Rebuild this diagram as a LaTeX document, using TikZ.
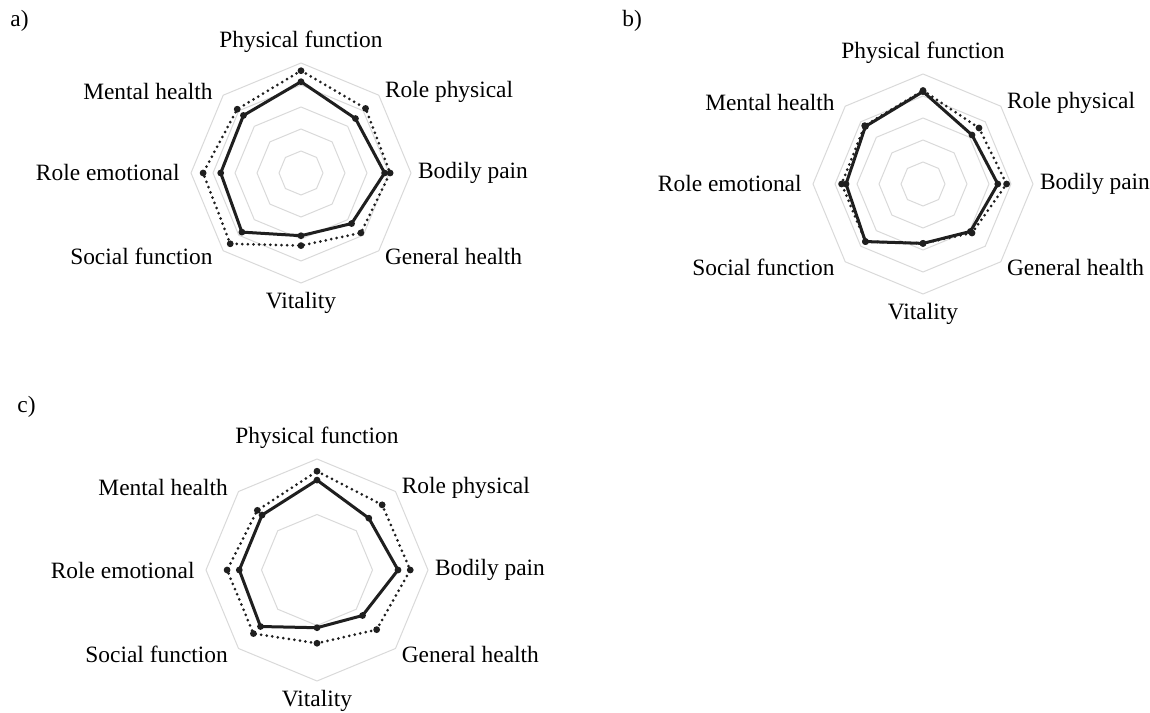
\documentclass[tikz,border=0pt]{standalone}
\usepackage{fontspec}
\setmainfont{Liberation Serif}
\begin{document}
\begin{tikzpicture}[x=0.5pt,y=0.5pt,
  grid/.style={draw=black!15,line width=0.5pt},
  solidline/.style={draw=black!88,line width=1.5pt,line join=round},
  dotline/.style={draw=black!88,line width=1.5pt,line cap=round,dash pattern=on 0pt off 2.8pt},
  lbl/.style={font=\fontsize{11.7}{14}\selectfont,inner sep=0pt}]
\useasboundingbox (0,0) rectangle (1150,712);
\node[lbl,anchor=west] (taga) at (10,691) {a)};
\node[lbl,anchor=west] (tagb) at (622,691) {b)};
\node[lbl,anchor=west] (tagc) at (17,305) {c)};
% panel a
\begin{scope}[shift={(301,539)},x=55pt,y=55pt]
\foreach \r in {0.2,0.4,0.6,0.8,1}
  \draw[grid] (90:\r) -- (45:\r) -- (0:\r) -- (-45:\r) -- (-90:\r) -- (-135:\r) -- (180:\r) -- (135:\r) -- cycle;
\draw[dotline] (90:0.93) -- (45:0.83) -- (0:0.81) -- (-45:0.77) -- (-90:0.66) -- (-135:0.91) -- (180:0.89) -- (135:0.82) -- cycle;
\draw[solidline] (90:0.83) -- (45:0.70) -- (0:0.76) -- (-45:0.65) -- (-90:0.57) -- (-135:0.76) -- (180:0.73) -- (135:0.74) -- cycle;
\foreach \a/\r in {90/0.93,45/0.83,0/0.81,-45/0.77,-90/0.66,-135/0.91,180/0.89,135/0.82,
  90/0.83,45/0.70,0/0.76,-45/0.65,-90/0.57,-135/0.76,180/0.73,135/0.74}
  \fill[black!88] (\a:\r) circle (1.7pt);
\node[lbl,anchor=south] (pfa) at (90:1.09) {Physical function};
\node[lbl,anchor=west] (rpa) at (0.76,0.74) {Role physical};
\node[lbl,anchor=west] (bpa) at (1.06,0) {Bodily pain};
\node[lbl,anchor=west] (gha) at (0.76,-0.76) {General health};
\node[lbl,anchor=north] (vta) at (-90:1.08) {Vitality};
\node[lbl,anchor=east] (sfa) at (-0.8,-0.76) {Social function};
\node[lbl,anchor=east] (rea) at (-1.1,0) {Role emotional};
\node[lbl,anchor=east] (mha) at (-0.8,0.74) {Mental health};
\end{scope}
% panel b
\begin{scope}[shift={(923,528)},x=55pt,y=55pt]
\foreach \r in {0.2,0.4,0.6,0.8,1}
  \draw[grid] (90:\r) -- (45:\r) -- (0:\r) -- (-45:\r) -- (-90:\r) -- (-135:\r) -- (180:\r) -- (135:\r) -- cycle;
\draw[dotline] (90:0.85) -- (45:0.72) -- (0:0.76) -- (-45:0.63) -- (-90:0.54) -- (-135:0.74) -- (180:0.74) -- (135:0.75) -- cycle;
\draw[solidline] (90:0.84) -- (45:0.63) -- (0:0.68) -- (-45:0.61) -- (-90:0.54) -- (-135:0.74) -- (180:0.70) -- (135:0.74) -- cycle;
\foreach \a/\r in {90/0.85,45/0.72,0/0.76,-45/0.63,-90/0.54,-135/0.74,180/0.74,135/0.75,
  90/0.84,45/0.63,0/0.68,-45/0.61,-90/0.54,-135/0.74,180/0.70,135/0.74}
  \fill[black!88] (\a:\r) circle (1.7pt);
\node[lbl,anchor=south] (pfb) at (90:1.09) {Physical function};
\node[lbl,anchor=west] (rpb) at (0.76,0.74) {Role physical};
\node[lbl,anchor=west] (bpb) at (1.06,0) {Bodily pain};
\node[lbl,anchor=west] (ghb) at (0.76,-0.76) {General health};
\node[lbl,anchor=north] (vtb) at (-90:1.08) {Vitality};
\node[lbl,anchor=east] (sfb) at (-0.8,-0.76) {Social function};
\node[lbl,anchor=east] (reb) at (-1.1,0) {Role emotional};
\node[lbl,anchor=east] (mhb) at (-0.8,0.74) {Mental health};
\end{scope}
% panel c
\begin{scope}[shift={(317,142)},x=55.5pt,y=55.5pt]
\foreach \r in {0.5,1}
  \draw[grid] (90:\r) -- (45:\r) -- (0:\r) -- (-45:\r) -- (-90:\r) -- (-135:\r) -- (180:\r) -- (135:\r) -- cycle;
\draw[dotline] (90:0.89) -- (45:0.83) -- (0:0.84) -- (-45:0.76) -- (-90:0.66) -- (-135:0.81) -- (180:0.81) -- (135:0.76) -- cycle;
\draw[solidline] (90:0.81) -- (45:0.66) -- (0:0.73) -- (-45:0.58) -- (-90:0.52) -- (-135:0.72) -- (180:0.70) -- (135:0.70) -- cycle;
\foreach \a/\r in {90/0.89,45/0.83,0/0.84,-45/0.76,-90/0.66,-135/0.81,180/0.81,135/0.76,
  90/0.81,45/0.66,0/0.73,-45/0.58,-90/0.52,-135/0.72,180/0.70,135/0.70}
  \fill[black!88] (\a:\r) circle (1.7pt);
\node[lbl,anchor=south] (pfc) at (90:1.09) {Physical function};
\node[lbl,anchor=west] (rpc) at (0.76,0.74) {Role physical};
\node[lbl,anchor=west] (bpc) at (1.06,0) {Bodily pain};
\node[lbl,anchor=west] (ghc) at (0.76,-0.76) {General health};
\node[lbl,anchor=north] (vtc) at (-90:1.08) {Vitality};
\node[lbl,anchor=east] (sfc) at (-0.8,-0.76) {Social function};
\node[lbl,anchor=east] (rec) at (-1.1,0) {Role emotional};
\node[lbl,anchor=east] (mhc) at (-0.8,0.74) {Mental health};
\end{scope}
\end{tikzpicture}
\end{document}
